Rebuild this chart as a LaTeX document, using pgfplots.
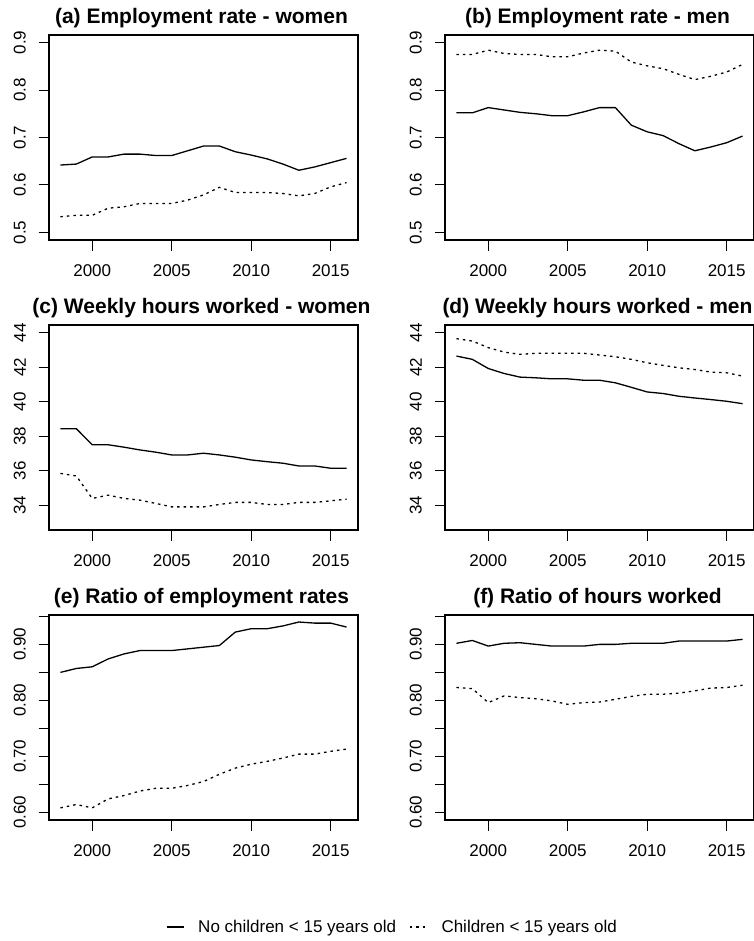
\documentclass[border=0pt]{standalone}
\usepackage{fontspec}
\setmainfont{Liberation Sans}
\usepackage{pgfplots}
\usepackage{pgfplotstable}
\pgfplotsset{compat=1.18}

\pgfplotstableread{
year no ch
1998 0.642 0.533
1999 0.644 0.536
2000 0.659 0.536
2001 0.659 0.551
2002 0.665 0.554
2003 0.665 0.561
2004 0.662 0.561
2005 0.662 0.561
2006 0.672 0.568
2007 0.682 0.579
2008 0.682 0.595
2009 0.670 0.584
2010 0.663 0.584
2011 0.655 0.584
2012 0.644 0.582
2013 0.631 0.577
2014 0.638 0.582
2015 0.647 0.596
2016 0.656 0.605
}\tabA

\pgfplotstableread{
year no ch
1998 0.752 0.875
1999 0.752 0.875
2000 0.763 0.884
2001 0.758 0.877
2002 0.753 0.875
2003 0.750 0.875
2004 0.746 0.870
2005 0.746 0.870
2006 0.754 0.878
2007 0.763 0.884
2008 0.763 0.882
2009 0.726 0.859
2010 0.712 0.851
2011 0.704 0.845
2012 0.687 0.833
2013 0.672 0.822
2014 0.680 0.829
2015 0.689 0.838
2016 0.703 0.854
}\tabB

\pgfplotstableread{
year no ch
1998 38.43 35.84
1999 38.43 35.69
2000 37.50 34.39
2001 37.50 34.58
2002 37.36 34.39
2003 37.20 34.29
2004 37.07 34.10
2005 36.91 33.90
2006 36.91 33.90
2007 37.01 33.90
2008 36.91 34.04
2009 36.78 34.16
2010 36.62 34.16
2011 36.52 34.04
2012 36.43 34.04
2013 36.27 34.16
2014 36.27 34.16
2015 36.14 34.25
2016 36.14 34.35
}\tabC

\pgfplotstableread{
year no ch
1998 42.64 43.65
1999 42.45 43.51
2000 41.92 43.13
2001 41.63 42.87
2002 41.42 42.74
2003 41.38 42.80
2004 41.32 42.80
2005 41.32 42.80
2006 41.24 42.80
2007 41.24 42.70
2008 41.09 42.60
2009 40.83 42.45
2010 40.56 42.25
2011 40.47 42.10
2012 40.31 41.96
2013 40.21 41.86
2014 40.12 41.71
2015 40.02 41.67
2016 39.88 41.48
}\tabD

\pgfplotstableread{
year no ch
1998 0.850 0.608
1999 0.857 0.614
2000 0.860 0.608
2001 0.874 0.624
2002 0.883 0.630
2003 0.889 0.638
2004 0.889 0.643
2005 0.889 0.643
2006 0.892 0.648
2007 0.895 0.655
2008 0.898 0.668
2009 0.922 0.679
2010 0.928 0.686
2011 0.928 0.691
2012 0.933 0.697
2013 0.940 0.704
2014 0.938 0.704
2015 0.938 0.709
2016 0.931 0.713
}\tabE

\pgfplotstableread{
year no ch
1998 0.902 0.823
1999 0.907 0.821
2000 0.897 0.796
2001 0.902 0.808
2002 0.903 0.805
2003 0.900 0.803
2004 0.897 0.799
2005 0.897 0.793
2006 0.897 0.796
2007 0.900 0.797
2008 0.900 0.802
2009 0.902 0.807
2010 0.902 0.811
2011 0.902 0.811
2012 0.906 0.813
2013 0.906 0.817
2014 0.906 0.822
2015 0.906 0.823
2016 0.909 0.827
}\tabF

\pgfplotsset{
  panel/.style={
    scale only axis, width=309bp, height=205bp,
    xmin=1997.28, xmax=2016.72,
    xtick={2000,2005,2010,2015},
    axis line style={line width=1.2bp},
    tick align=outside, xtick pos=bottom, ytick pos=left,
    major tick length=10.5bp,
    tick style={line width=1bp, black},
    /pgf/number format/assume math mode=true,
    /pgf/number format/1000 sep={},
    ticklabel style={font=\fontsize{17bp}{17bp}\selectfont},
    xticklabel style={anchor=north, inner sep=0pt, yshift=-14bp},
    yticklabel style={rotate=90, anchor=south, inner sep=0pt},
    yticklabel shift=12.5bp,
    title style={font=\bfseries\fontsize{21bp}{21bp}\selectfont, at={(0.5,1)}, anchor=base, yshift=5.7bp, xshift=-2bp, inner sep=0pt},
    every axis plot/.append style={line width=1.3bp, black},
  },
  rate/.style={ymin=0.484, ymax=0.916, ytick={0.5,0.6,0.7,0.8,0.9},
    yticklabel={\pgfmathprintnumber[fixed,fixed zerofill,precision=1]{\tick}}},
  hours/.style={ymin=32.56, ymax=44.44, ytick={34,36,38,40,42,44}},
  ratio/.style={ymin=0.5863, ymax=0.9525, ytick={0.60,0.65,0.70,0.75,0.80,0.85,0.90,0.95},
    yticklabels={0.60,,0.70,,0.80,,0.90,}},
  dotl/.style={dash pattern=on 2.5bp off 4bp},
}

\begin{document}
\begin{tikzpicture}
\useasboundingbox (0,0) rectangle (754bp,-941bp);

\begin{axis}[panel, rate, at={(49bp,-240bp)}, anchor=south west, title={(a) Employment rate - women}]
\addplot[solid] table[x=year,y=no] {\tabA};
\addplot[dotl] table[x=year,y=ch] {\tabA};
\end{axis}

\begin{axis}[panel, rate, at={(445bp,-240bp)}, anchor=south west, title={(b) Employment rate - men}]
\addplot[solid] table[x=year,y=no] {\tabB};
\addplot[dotl] table[x=year,y=ch] {\tabB};
\end{axis}

\begin{axis}[panel, hours, at={(49bp,-530bp)}, anchor=south west, title={(c) Weekly hours worked - women}]
\addplot[solid] table[x=year,y=no] {\tabC};
\addplot[dotl] table[x=year,y=ch] {\tabC};
\end{axis}

\begin{axis}[panel, hours, at={(445bp,-530bp)}, anchor=south west, title={(d) Weekly hours worked - men}]
\addplot[solid] table[x=year,y=no] {\tabD};
\addplot[dotl] table[x=year,y=ch] {\tabD};
\end{axis}

\begin{axis}[panel, ratio, at={(49bp,-820bp)}, anchor=south west, title={(e) Ratio of employment rates},
  legend columns=2,
  legend image code/.code={\draw[#1] (0bp,0bp) -- (17bp,0bp);},
  legend style={at={(1.108,-0.522)}, anchor=center, draw=none, fill=none,
    font=\fontsize{17bp}{17bp}\selectfont,
    nodes={inner sep=0pt},
    /tikz/every odd column/.append style={column sep=14bp},
    /tikz/every even column/.append style={column sep=13bp}}]
\addplot[solid] table[x=year,y=no] {\tabE};
\addplot[dotl] table[x=year,y=ch] {\tabE};
\legend{No children \textless{} 15 years old, Children \textless{} 15 years old}
\end{axis}

\begin{axis}[panel, ratio, at={(445bp,-820bp)}, anchor=south west, title={(f) Ratio of hours worked}]
\addplot[solid] table[x=year,y=no] {\tabF};
\addplot[dotl] table[x=year,y=ch] {\tabF};
\end{axis}

\end{tikzpicture}
\end{document}
